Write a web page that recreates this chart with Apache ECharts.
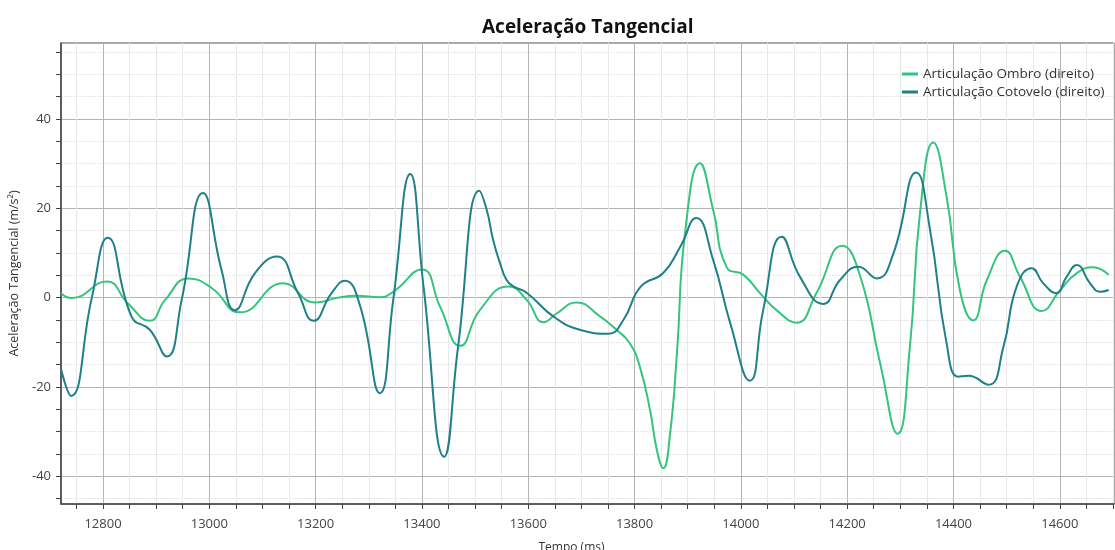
<!DOCTYPE html>
<html>
<head>
<meta charset="utf-8">
<title>Aceleração Tangencial</title>
<script src="https://cdn.jsdelivr.net/npm/echarts@6/dist/echarts.min.js"></script>
<style>
  html, body { margin: 0; padding: 0; background: #fff; }
  #chart { width: 1115px; height: 550px; }
</style>
</head>
<body>
<div id="chart"></div>
<script>
// dados (tempo em ms, aceleração em m/s²)
var ombroTime = [12721, 12741, 12807, 12847, 12888, 12917, 12961, 13005, 13058, 13139, 13199, 13243, 13277, 13321, 13346, 13400, 13434, 13472, 13509, 13563, 13597, 13629, 13654, 13691, 13735, 13766, 13791, 13810, 13829, 13842, 13854, 13867, 13880, 13895, 13923, 13948, 13973, 14005, 14036, 14067, 14105, 14142, 14191, 14224, 14262, 14295, 14318, 14337, 14362, 14387, 14412, 14437, 14463, 14497, 14525, 14566, 14601, 14632, 14663, 14692];
var ombroValue = [1.0, -0.1, 3.6, -1.3, -5.2, -0.5, 4.3, 2.1, -3.3, 3.2, -1.1, 0.0, 0.4, 0.1, 1.3, 6.3, -2.0, -10.8, -2.8, 2.5, -0.5, -5.5, -3.5, -1.1, -4.2, -7.2, -10.2, -15.5, -25.1, -34.1, -38.2, -30.3, -12.0, 14.4, 30.1, 19.6, 6.9, 5.1, 1.0, -2.8, -5.6, 1.0, 11.6, 5.0, -14.7, -30.5, -11.0, 18.9, 34.7, 22.6, 1.7, -5.1, 4.0, 10.5, 4.7, -3.0, 1.7, 5.5, 6.8, 5.1];

var cotoveloTime = [12721, 12740, 12779, 12809, 12854, 12888, 12920, 12948, 12988, 13023, 13048, 13086, 13127, 13167, 13196, 13230, 13255, 13284, 13321, 13346, 13378, 13403, 13442, 13468, 13508, 13522, 13534, 13547, 13559, 13572, 13597, 13647, 13697, 13751, 13779, 13812, 13854, 13886, 13916, 13948, 13980, 14017, 14042, 14077, 14111, 14155, 14187, 14221, 14256, 14287, 14330, 14356, 14387, 14409, 14428, 14466, 14494, 14519, 14547, 14569, 14593, 14613, 14632, 14657, 14676, 14692];
var cotoveloValue = [-16.0, -22.0, 0.0, 13.4, -4.3, -7.2, -13.2, -0.5, 23.4, 6.2, -2.8, 5.5, 9.2, 1.0, -5.2, 1.0, 3.8, -2.0, -21.4, -0.5, 27.7, 2.5, -35.6, -11.0, 23.9, 19.6, 12.9, 7.7, 4.0, 2.5, 1.1, -4.2, -7.2, -8.1, -5.0, 2.5, 5.5, 11.4, 17.8, 8.4, -5.7, -18.6, -2.8, 13.6, 4.7, -1.4, 4.0, 6.9, 4.3, 9.9, 28.0, 15.1, -10.2, -17.7, -17.5, -19.5, -11.0, 2.5, 6.6, 3.2, 1.0, 4.7, 7.3, 3.2, 1.3, 1.7];

var xMajorTicks = [12800, 13000, 13200, 13400, 13600, 13800, 14000, 14200, 14400, 14600];
var yMajorTicks = [-40, -20, 0, 20, 40];

var seriesNames = ['Articulação Ombro (direito)', 'Articulação Cotovelo (direito)'];
var seriesColors = ['#34c47e', '#1f8088'];

// marcas secundárias (a cada 50 ms / 5 m/s²)
var xMinorTicks = [];
for (var t = 12750; t <= 14700; t += 50) xMinorTicks.push(t);
var yMinorTicks = [];
for (var v = -45; v <= 55; v += 5) yMinorTicks.push(v);

function pairs(xs, ys) {
  return xs.map(function (x, i) { return [x, ys[i]]; });
}

var chart = echarts.init(document.getElementById('chart'));
var font = 'Open Sans, Noto Sans, sans-serif';

var option = {
  animation: false,
  title: {
    text: 'Aceleração Tangencial',
    left: 477,
    top: 13,
    textStyle: { fontFamily: font, fontSize: 19, fontWeight: 'bold', color: '#111' }
  },
  legend: {
    data: seriesNames,
    orient: 'vertical',
    left: 897,
    top: 62,
    itemWidth: 16,
    itemHeight: 3,
    itemGap: 4,
    icon: 'rect',
    textStyle: { fontFamily: font, fontSize: 13.5, color: '#333' }
  },
  grid: {
    left: 61, right: 1, top: 43, bottom: 46,
    outerBoundsMode: 'none',
    show: true, borderColor: '#555', borderWidth: 1
  },
  xAxis: [
    {
      type: 'value', position: 'bottom', min: 12721, max: 14702,
      axisLine: { show: false, onZero: false },
      axisTick: { show: true, length: 5, customValues: xMinorTicks, lineStyle: { color: '#444' } },
      axisLabel: { show: false },
      splitLine: { show: true, lineStyle: { color: '#e8e8e8', width: 1 } }
    },
    {
      type: 'value', position: 'bottom', min: 12721, max: 14702,
      name: 'Tempo (ms)', nameLocation: 'middle', nameGap: 38,
      nameTextStyle: { fontFamily: font, fontSize: 12, color: '#333', padding: [0, 32, 0, 0] },
      axisLine: { show: true, onZero: false, lineStyle: { color: '#444', width: 1.5 } },
      axisTick: { show: true, length: 5, customValues: xMajorTicks, lineStyle: { color: '#444' } },
      axisLabel: {
        customValues: xMajorTicks, margin: 14, fontFamily: font, fontSize: 13, color: '#444',
        formatter: function (val) { return String(val); }
      },
      splitLine: { show: true, lineStyle: { color: '#b4b4b4', width: 1 } }
    }
  ],
  yAxis: [
    {
      type: 'value', position: 'left', min: -46.2, max: 57,
      axisLine: { show: false, onZero: false },
      axisTick: { show: true, length: 5, customValues: yMinorTicks, lineStyle: { color: '#444' } },
      axisLabel: { show: false },
      splitLine: { show: true, lineStyle: { color: '#e6e6e6', width: 1, type: [2, 1] } }
    },
    {
      type: 'value', position: 'left', min: -46.2, max: 57,
      name: 'Aceleração Tangencial (m/s²)', nameLocation: 'middle', nameGap: 38,
      nameTextStyle: { fontFamily: font, fontSize: 12.5, color: '#333' },
      axisLine: { show: true, onZero: false, lineStyle: { color: '#444', width: 1.5 } },
      axisTick: { show: true, length: 5, customValues: yMajorTicks, lineStyle: { color: '#444' } },
      axisLabel: { customValues: yMajorTicks, margin: 10, fontFamily: font, fontSize: 13, color: '#444' },
      splitLine: { show: true, lineStyle: { color: '#b4b4b4', width: 1 } }
    }
  ],
  series: [
    {
      name: seriesNames[0], type: 'line', xAxisIndex: 1, yAxisIndex: 1,
      data: pairs(ombroTime, ombroValue),
      smooth: 0.5, showSymbol: false, clip: true,
      itemStyle: { color: seriesColors[0] },
      lineStyle: { color: seriesColors[0], width: 2 }
    },
    {
      name: seriesNames[1], type: 'line', xAxisIndex: 1, yAxisIndex: 1,
      data: pairs(cotoveloTime, cotoveloValue),
      smooth: 0.5, showSymbol: false, clip: true,
      itemStyle: { color: seriesColors[1] },
      lineStyle: { color: seriesColors[1], width: 2 }
    }
  ]
};

chart.setOption(option);
</script>
</body>
</html>
